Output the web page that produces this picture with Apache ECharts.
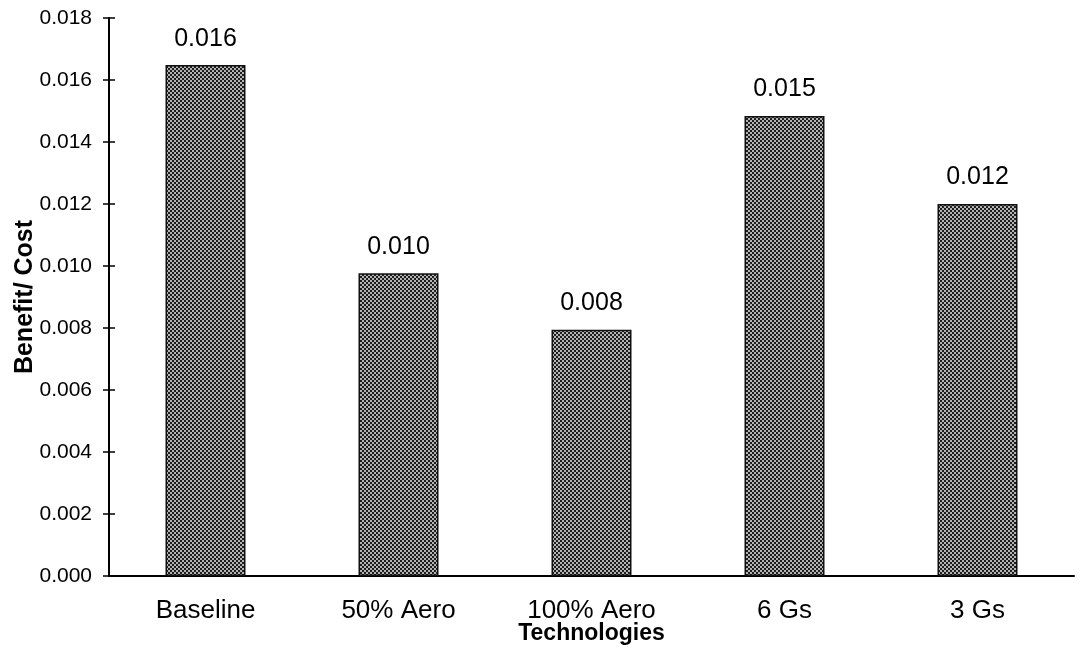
<!DOCTYPE html>
<html>
<head>
<meta charset="utf-8">
<script src="https://cdn.jsdelivr.net/npm/echarts@6/dist/echarts.min.js"></script>
<style>
html,body{margin:0;padding:0;background:#fff;}
#chart{width:1086px;height:651px;}
</style>
</head>
<body>
<div id="chart"></div>
<script>
const categories = ['Baseline', '50% Aero', '100% Aero', '6 Gs', '3 Gs'];
const benefitCost = [0.01648, 0.00977, 0.00794, 0.01484, 0.01200];
const yTicks = [0, 0.002, 0.004, 0.006, 0.008, 0.010, 0.012, 0.014, 0.016, 0.018];

const FONT = '"Liberation Sans", Arial, Helvetica, sans-serif';

// checkerboard halftone pattern for the bars
const pat = document.createElement('canvas');
pat.width = 4; pat.height = 4;
const pc = pat.getContext('2d');
pc.fillStyle = '#b4b4b4'; pc.fillRect(0, 0, 4, 4);
pc.fillStyle = '#1e1e1e';
pc.fillRect(0, 0, 2, 2); pc.fillRect(2, 2, 2, 2);

const chart = echarts.init(document.getElementById('chart'), null, {renderer: 'canvas'});
const yMin = yTicks[0], yMax = yTicks[yTicks.length - 1], yStep = yTicks[1] - yTicks[0];

chart.setOption({
  backgroundColor: '#fff',
  animation: false,
  grid: {left: 109, right: 12, top: 18, bottom: 75, containLabel: false, outerBoundsMode: 'none'},
  xAxis: {
    type: 'category',
    data: categories,
    name: 'Technologies',
    nameLocation: 'middle',
    nameGap: 46,
    nameMoveOverlap: false,
    nameTextStyle: {fontFamily: FONT, fontSize: 23, fontWeight: 'bold', color: '#000'},
    axisLine: {lineStyle: {color: '#000', width: 2}},
    axisTick: {show: false},
    axisLabel: {fontFamily: FONT, fontSize: 26, color: '#000', margin: 22},
    splitLine: {show: false}
  },
  yAxis: [{
    type: 'value',
    min: yMin, max: yMax, interval: yStep,
    name: 'Benefit/ Cost',
    nameLocation: 'middle',
    nameGap: 71,
    nameMoveOverlap: false,
    nameTextStyle: {fontFamily: FONT, fontSize: 25, fontWeight: 'bold', color: '#000'},
    axisLine: {show: true, lineStyle: {color: '#000', width: 2}},
    axisTick: {show: true, length: 6, lineStyle: {color: '#000', width: 1.5}},
    axisLabel: {fontFamily: FONT, fontSize: 21, color: '#000', margin: 17,
      formatter: v => v.toFixed(3)},
    splitLine: {show: false}
  }, {
    type: 'value',
    position: 'left',
    min: yMin, max: yMax, interval: yStep,
    axisLine: {show: false},
    axisTick: {show: true, inside: true, length: 6, lineStyle: {color: '#000', width: 1.5}},
    axisLabel: {show: false},
    splitLine: {show: false}
  }],
  series: [{
    type: 'bar',
    data: benefitCost,
    barWidth: 80,
    itemStyle: {color: {image: pat, repeat: 'repeat'}, borderColor: '#111', borderWidth: 1.5},
    label: {
      show: true, position: 'top', distance: 14,
      fontFamily: FONT, fontSize: 25, color: '#000',
      formatter: p => p.value.toFixed(3)
    }
  }]
});
</script>
</body>
</html>
